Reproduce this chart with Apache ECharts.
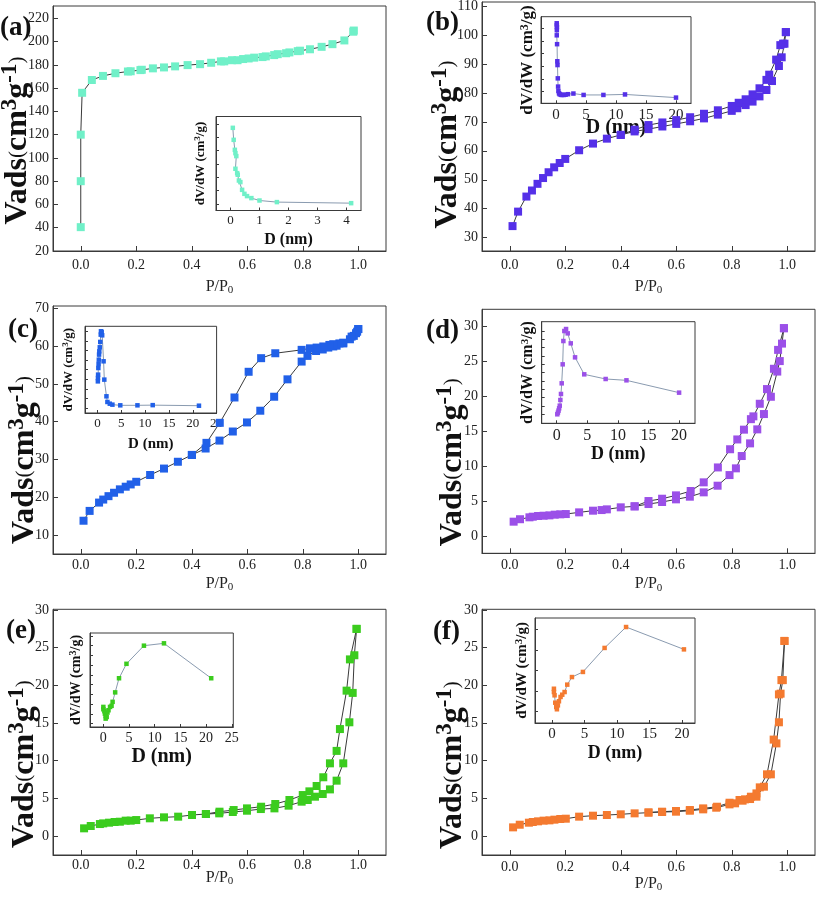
<!DOCTYPE html>
<html><head><meta charset="utf-8">
<script src="https://cdn.jsdelivr.net/npm/echarts@6.0.0/dist/echarts.min.js"></script>
<style>html,body{margin:0;padding:0;background:#fff}#c{width:817px;height:897px}</style>
</head><body><div id="c"></div>
<script>
const FONT = '"Liberation Serif","Times New Roman",serif';

// ---------- tick labels ----------
const xTicksMain = [0, 0.2, 0.4, 0.6, 0.8, 1.0];
const yTicks_a = [20, 40, 60, 80, 100, 120, 140, 160, 180, 200, 220];
const yTicks_b = [30, 40, 50, 60, 70, 80, 90, 100, 110];
const yTicks_c = [10, 20, 30, 40, 50, 60, 70];
const yTicks_def = [0, 5, 10, 15, 20, 25, 30];
const xTicksInset_a = [0, 1, 2, 3, 4];
const xTicksInset_bdf = [0, 5, 10, 15, 20];
const xTicksInset_ce = [0, 5, 10, 15, 20, 25];

// ---------- isotherms: [P/P0, Vads] ----------
const a_iso = [[0.0,40.5],[0.0,80],[0.0,120],[0.005,156],[0.04,167],[0.08,170.5],[0.125,172.8],[0.17,174.3],[0.18,174.5],[0.215,175.5],[0.22,175.8],[0.26,177],[0.30,177.8],[0.34,178.7],[0.385,179.8],[0.43,180.6],[0.47,181.8],[0.505,183],[0.517,183],[0.545,184],[0.565,184],[0.585,185],[0.605,185.5],[0.625,186.2],[0.655,186.7],[0.667,187.3],[0.697,188.4],[0.71,189.2],[0.74,190],[0.752,190.7],[0.782,191.8],[0.79,192.2],[0.826,193.4],[0.868,195.5],[0.907,197.8],[0.95,201],[0.982,208.5],[0.984,209.5]];

const b_ads = [[0.01,34],[0.03,39],[0.06,44.2],[0.08,46.3],[0.10,48.6],[0.12,50.6],[0.14,52.6],[0.16,54.3],[0.18,55.8],[0.20,57.2],[0.25,60.2],[0.30,62.5],[0.35,64.2],[0.40,65.5],[0.45,66.7],[0.50,67.5],[0.55,68.4],[0.60,69.3],[0.65,70.2],[0.70,71.2],[0.75,72.5],[0.80,73.8],[0.82,74.7],[0.85,75.8],[0.875,77],[0.90,78.8],[0.925,81],[0.945,84.1],[0.97,89.3],[0.98,92.3],[0.99,97],[0.995,101]];
const b_des = [[0.995,101],[0.985,97],[0.975,96.5],[0.96,91.5],[0.935,86.3],[0.925,84.5],[0.90,81.6],[0.875,79.5],[0.85,77.8],[0.825,76.6],[0.80,75.5],[0.75,74],[0.70,72.8],[0.65,71.6],[0.60,70.6],[0.55,69.8],[0.50,68.9],[0.45,67.3],[0.40,65.5]];

const c_ads = [[0.01,13.8],[0.032,16.4],[0.066,18.6],[0.081,19.4],[0.1,20.3],[0.12,21.2],[0.141,22.1],[0.162,22.8],[0.18,23.4],[0.2,24.1],[0.25,25.9],[0.3,27.6],[0.35,29.4],[0.4,31.2],[0.45,32.9],[0.5,35.0],[0.548,37.4],[0.599,39.8],[0.647,42.9],[0.697,46.6],[0.745,51.2],[0.796,55.9],[0.817,57.4],[0.848,58.7],[0.872,59.1],[0.892,59.6],[0.91,59.9],[0.922,60.1],[0.946,60.7],[0.97,61.8],[0.984,62.7],[0.996,63.8],[1.0,64.5]];
const c_des = [[1.0,64.5],[0.992,63.4],[0.976,62.5],[0.946,60.9],[0.932,60.7],[0.91,60.5],[0.896,60.3],[0.874,59.9],[0.85,59.6],[0.826,59.4],[0.796,59.0],[0.701,58.1],[0.65,56.8],[0.605,53.2],[0.554,46.4],[0.501,39.7],[0.453,34.4],[0.401,31.2]];

const d_ads = [[0.014,2.05],[0.037,2.4],[0.071,2.67],[0.083,2.76],[0.102,2.86],[0.122,2.9],[0.143,2.95],[0.162,3.05],[0.182,3.1],[0.202,3.14],[0.25,3.38],[0.3,3.62],[0.331,3.71],[0.35,3.81],[0.4,4.1],[0.45,4.24],[0.5,4.57],[0.549,4.86],[0.599,5.24],[0.649,5.62],[0.699,6.24],[0.749,7.19],[0.792,8.71],[0.815,9.67],[0.836,11.43],[0.866,13.24],[0.892,15.24],[0.916,17.43],[0.941,19.9],[0.964,23.5],[0.973,25.0],[0.981,27.5],[0.988,29.7]];
const d_des = [[0.988,29.7],[0.967,26.6],[0.952,23.9],[0.927,21.0],[0.901,18.9],[0.878,17.1],[0.869,16.7],[0.844,15.2],[0.82,13.8],[0.794,12.4],[0.75,9.8],[0.699,7.67],[0.652,6.43],[0.599,5.81],[0.549,5.33],[0.5,5.0],[0.45,4.24]];

const e_ads = [[0.012,1.02],[0.036,1.33],[0.069,1.59],[0.081,1.68],[0.102,1.77],[0.122,1.86],[0.141,1.9],[0.162,2.04],[0.18,2.04],[0.2,2.12],[0.249,2.35],[0.3,2.48],[0.351,2.57],[0.401,2.79],[0.451,2.92],[0.499,3.01],[0.548,3.19],[0.599,3.36],[0.649,3.58],[0.698,3.67],[0.749,4.03],[0.796,4.56],[0.818,4.78],[0.844,5.22],[0.872,5.58],[0.898,6.19],[0.922,7.35],[0.946,9.65],[0.968,15.1],[0.98,19.0],[0.986,24.0],[0.994,27.5]];
const e_des = [[0.994,27.5],[0.97,23.45],[0.958,19.3],[0.934,14.2],[0.922,11.3],[0.898,9.65],[0.874,7.8],[0.85,6.64],[0.824,5.93],[0.8,5.44],[0.752,4.78],[0.701,4.25],[0.65,3.89],[0.599,3.67],[0.551,3.45],[0.5,3.23],[0.451,2.92]];

const f_ads = [[0.012,1.15],[0.036,1.5],[0.069,1.77],[0.083,1.86],[0.102,1.95],[0.122,2.04],[0.143,2.08],[0.161,2.17],[0.182,2.26],[0.202,2.3],[0.25,2.57],[0.3,2.7],[0.35,2.79],[0.4,2.88],[0.45,3.01],[0.5,3.1],[0.549,3.19],[0.599,3.23],[0.649,3.36],[0.697,3.54],[0.744,3.76],[0.792,4.2],[0.812,4.34],[0.839,4.69],[0.866,4.91],[0.889,5.22],[0.916,6.55],[0.941,8.19],[0.961,12.3],[0.97,15.1],[0.976,18.9],[0.984,20.7],[0.99,25.9]];
const f_des = [[0.99,25.9],[0.979,20.7],[0.97,18.8],[0.951,12.8],[0.927,8.19],[0.901,6.46],[0.889,5.66],[0.869,5.22],[0.848,4.87],[0.828,4.78],[0.792,4.42],[0.747,3.89],[0.697,3.67],[0.649,3.45],[0.599,3.32],[0.549,3.23],[0.5,3.14]];

// ---------- pore size distributions (insets): [D nm, dV/dW arb.] ----------
const a_psd = [[0.08,5.7],[0.11,4.8],[0.15,4.05],[0.17,3.8],[0.20,3.58],[0.17,2.63],[0.23,2.3],[0.25,2.18],[0.29,1.75],[0.34,1.63],[0.40,1.05],[0.48,0.75],[0.57,0.58],[0.72,0.43],[1.0,0.25],[1.6,0.13],[4.16,0.05]];
const b_psd = [[0.12,6.4],[0.14,6.25],[0.15,6.1],[0.14,5.85],[0.13,5.45],[0.18,4.75],[0.22,3.4],[0.25,3.1],[0.3,2.05],[0.35,1.4],[0.4,1.05],[0.5,0.87],[0.6,0.8],[0.8,0.75],[1.0,0.74],[1.3,0.74],[1.6,0.76],[2.0,0.8],[2.9,0.85],[4.6,0.74],[7.9,0.74],[11.5,0.78],[20,0.53]];
const c_psd = [[0.1,2.78],[0.12,3.13],[0.15,3.48],[0.2,4.17],[0.25,4.59],[0.3,5.04],[0.35,5.57],[0.4,5.91],[0.5,6.33],[0.6,6.89],[0.7,7.65],[0.75,8.0],[0.9,7.93],[1.0,7.58],[1.3,4.87],[1.45,2.96],[1.9,1.22],[2.1,0.63],[2.6,0.45],[3.15,0.35],[4.8,0.28],[8.4,0.28],[11.6,0.3],[21.3,0.24]];
const d_psd = [[0.1,0],[0.2,0.1],[0.3,0.22],[0.4,0.36],[0.5,0.52],[0.6,0.86],[0.7,1.22],[0.82,1.86],[0.98,3.0],[1.09,4.4],[1.25,5.0],[1.53,5.12],[1.8,4.86],[2.3,4.26],[3.0,3.42],[4.5,2.4],[8.0,2.12],[11.4,2.04],[20,1.3]];
const e_psd = [[0,1.72],[0,1.48],[0.2,1.28],[0.3,1.03],[0.45,0.79],[0.45,0.52],[0.65,0.69],[0.8,1.14],[1.0,1.38],[1.3,1.72],[1.6,1.83],[1.8,2.24],[2.3,3.21],[3.05,4.66],[4.5,6.14],[7.9,8.0],[11.8,8.24],[21,4.66]];
const f_psd = [[0.31,1.1],[0.31,0.94],[0.41,0.78],[0.51,0.42],[0.67,0.21],[0.77,0.1],[0.92,0.29],[1.08,0.49],[1.33,0.7],[1.59,0.81],[1.95,0.94],[2.36,1.3],[3.08,1.67],[4.77,1.92],[8.1,3.09],[11.4,4.11],[20.3,3.02]];

// ---------- panel definitions (layout kept separate) ----------
const panels = [
  {tag:'(a)', color:'#70f0c8', iso:[a_iso], psd:a_psd, yTicks:yTicks_a, ixTicks:xTicksInset_a,
   g:{left:53,top:6,width:333,height:245}, yr:[20,230.6], yGap:17, yOff:12, xGap:26, xm:7, lab:[0,30],
   ig:{left:216,top:116.5,width:145,height:94}, ixr:[-0.5,4.5], iyr:[-0.5,6.55], iyTicks:[0,1,2,3,4,5,6],
   tf:13, df:16, vf:13, dGap:21, vGap:8},
  {tag:'(b)', color:'#5530e8', iso:[b_ads,b_des], psd:b_psd, yTicks:yTicks_b, ixTicks:xTicksInset_bdf,
   g:{left:482,top:2,width:333,height:249}, yr:[25.4,111.4], yGap:16, yOff:18, xGap:26, xm:7, lab:[426,25],
   ig:{left:541,top:16.7,width:150,height:86.6}, ixr:[-2.5,22.5], iyr:[0.08,6.92], iyTicks:[1,2,3,4,5,6],
   tf:15, df:20, vf:17, dGap:15, vGap:4},
  {tag:'(c)', color:'#2160e8', iso:[c_ads,c_des], psd:c_psd, yTicks:yTicks_c, ixTicks:xTicksInset_ce,
   g:{left:53,top:306,width:333,height:248}, yr:[5,70.6], yGap:10, yOff:30, xGap:20, xm:4, lab:[8,332],
   ig:{left:85,top:326.3,width:131.6,height:86.7}, ixr:[-2.6,25], iyr:[-0.52,8.52], iyTicks:[0,1,2,3,4,5,6,7,8],
   tf:13, df:15, vf:13, dGap:24, vGap:9},
  {tag:'(d)', color:'#9b50e8', iso:[d_ads,d_des], psd:d_psd, yTicks:yTicks_def, ixTicks:xTicksInset_bdf,
   g:{left:482,top:309.3,width:333,height:244}, yr:[-2.47,32.4], yGap:11, yOff:31, xGap:21, xm:5, lab:[426,333],
   ig:{left:541.7,top:321.7,width:153.3,height:101.6}, ixr:[-2.45,22.6], iyr:[-0.54,5.56], iyTicks:[0,0.5,1,1.5,2,2.5,3,3.5,4,4.5,5],
   tf:16, df:18, vf:16, dGap:22, vGap:5},
  {tag:'(e)', color:'#3bcc1e', iso:[e_ads,e_des], psd:e_psd, yTicks:yTicks_def, ixTicks:xTicksInset_ce,
   g:{left:53,top:609.3,width:333,height:245.7}, yr:[-2.52,30.1], yGap:10, yOff:32, xGap:13, xm:3, lab:[6,633],
   ig:{left:90,top:633,width:143.3,height:94}, ixr:[-2.6,25.3], iyr:[-0.34,9.3], iyTicks:[0,1,2,3,4,5,6,7,8,9],
   tf:14, df:20, vf:14, dGap:20, vGap:6},
  {tag:'(f)', color:'#f47a30', iso:[f_ads,f_des], psd:f_psd, yTicks:yTicks_def, ixTicks:xTicksInset_bdf,
   g:{left:482,top:609.3,width:333,height:245.7}, yr:[-2.52,30.1], yGap:11, yOff:33, xGap:19, xm:5, lab:[433,634],
   ig:{left:535,top:618,width:160,height:105}, ixr:[-2.6,22], iyr:[-0.57,4.55], iyTicks:[0,1,2,3,4],
   tf:15, df:18, vf:15, dGap:21, vGap:4}
];

const grid = [], xAxis = [], yAxis = [], series = [], graphic = [];
const lineCol = '#3a3a3a';
function fmt1(v){ return v.toFixed(1); }
const gridBase = {show:true, borderColor:lineCol, borderWidth:1, backgroundColor:'transparent', containLabel:false, outerBoundsMode:'none'};

panels.forEach((p, i) => {
  const gi = grid.length;
  grid.push(Object.assign({}, gridBase, p.g));
  xAxis.push({gridIndex:gi, type:'value', min:-0.1, max:1.1, nameMoveOverlap:false,
    axisLine:{show:true, onZero:false, lineStyle:{color:lineCol}},
    axisTick:{show:true, inside:true, length:5, customValues:xTicksMain, lineStyle:{color:lineCol}},
    axisLabel:{customValues:xTicksMain, formatter:fmt1, fontFamily:FONT, fontSize:14, color:'#222', margin:p.xm},
    splitLine:{show:false},
    name:'{n|P/P}{s|0}', nameLocation:'middle', nameGap:p.xGap,
    nameTextStyle:{fontFamily:FONT, color:'#222', verticalAlign:'top', rich:{n:{fontFamily:FONT,fontSize:16,color:'#222'}, s:{fontFamily:FONT,fontSize:11,color:'#222',verticalAlign:'bottom', padding:[8,0,0,0]}}}
  });
  yAxis.push({gridIndex:gi, type:'value', min:p.yr[0], max:p.yr[1], nameMoveOverlap:false,
    axisLine:{show:true, onZero:false, lineStyle:{color:lineCol}},
    axisTick:{show:true, inside:true, length:5, customValues:p.yTicks, lineStyle:{color:lineCol}},
    axisLabel:{customValues:p.yTicks, fontFamily:FONT, fontSize:14, color:'#222', margin:4},
    splitLine:{show:false},
    name:'{b|Vads}{p|(}{b|cm}{u|3}{b|g}{u|-1}{p|)}', nameLocation:'middle', nameRotate:90, nameGap:p.yGap,
    nameTextStyle:{verticalAlign:'bottom', padding:[0, 2*p.yOff, 0, 0], rich:{
      b:{fontFamily:FONT,fontSize:32,fontWeight:'bold',color:'#111'},
      u:{fontFamily:FONT,fontSize:23,fontWeight:'bold',color:'#111',verticalAlign:'top',padding:[0,0,14,0]},
      p:{fontFamily:FONT,fontSize:21,color:'#111'}}}
  });
  p.iso.forEach(d => series.push({type:'line', xAxisIndex:gi, yAxisIndex:gi, data:d,
    symbol:'rect', symbolSize:8, showSymbol:true, animation:false,
    lineStyle:{color:lineCol, width:1}, itemStyle:{color:p.color}, z:3}));

  const ii = grid.length;
  grid.push(Object.assign({}, gridBase, p.ig));
  xAxis.push({gridIndex:ii, type:'value', min:p.ixr[0], max:p.ixr[1], nameMoveOverlap:false,
    axisLine:{show:true, onZero:false, lineStyle:{color:lineCol}},
    axisTick:{show:true, inside:true, length:3, customValues:p.ixTicks, lineStyle:{color:lineCol}},
    axisLabel:{customValues:p.ixTicks, fontFamily:FONT, fontSize:p.tf, color:'#222', margin:4},
    splitLine:{show:false},
    name:'D (nm)', nameLocation:'middle', nameGap:p.dGap,
    nameTextStyle:{fontFamily:FONT, fontSize:p.df, fontWeight:'bold', color:'#111', verticalAlign:'top'}
  });
  yAxis.push({gridIndex:ii, type:'value', min:p.iyr[0], max:p.iyr[1], nameMoveOverlap:false,
    axisLine:{show:true, onZero:false, lineStyle:{color:lineCol}},
    axisTick:{show:true, inside:true, length:3, customValues:p.iyTicks, lineStyle:{color:lineCol}},
    axisLabel:{show:false},
    splitLine:{show:false},
    name:'{b|dV/dW (cm}{u|3}{b|/g)}', nameLocation:'middle', nameRotate:90, nameGap:p.vGap,
    nameTextStyle:{verticalAlign:'bottom', rich:{
      b:{fontFamily:FONT,fontSize:p.vf,fontWeight:'bold',color:'#111'},
      u:{fontFamily:FONT,fontSize:Math.round(p.vf*0.7),fontWeight:'bold',color:'#111',verticalAlign:'top',padding:[0,0,6,0]}}}
  });
  series.push({type:'line', xAxisIndex:ii, yAxisIndex:ii, data:p.psd,
    symbol:'rect', symbolSize:4.5, showSymbol:true, animation:false,
    lineStyle:{color:'#8a9bb0', width:1}, itemStyle:{color:p.color}, z:4});

  graphic.push({type:'text', left:p.lab[0], top:p.lab[1]-15,
    style:{text:p.tag, fontFamily:FONT, fontSize:27, fontWeight:'bold', fill:'#111'}});
});

const chart = echarts.init(document.getElementById('c'), null, {renderer:'canvas'});
chart.setOption({animation:false, backgroundColor:'#fff', grid, xAxis, yAxis, series, graphic});
</script>
</body></html>
